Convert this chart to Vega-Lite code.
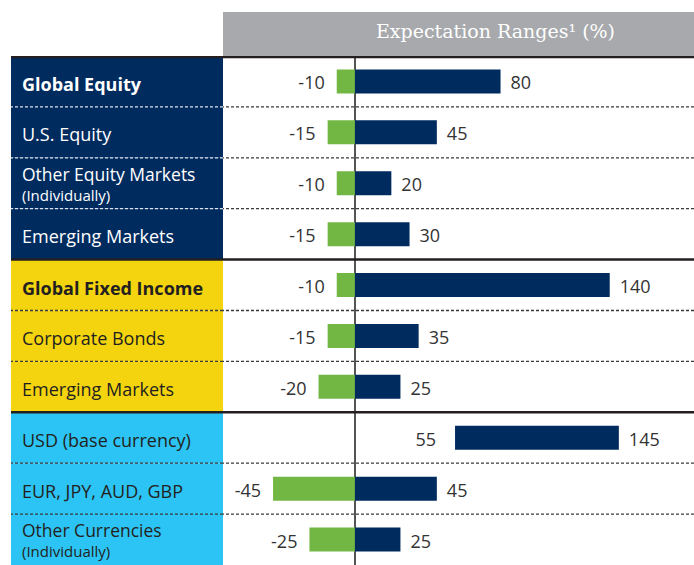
{
  "$schema": "https://vega.github.io/schema/vega-lite/v6.json",
  "padding": {"left": 11, "top": 12, "right": 0, "bottom": 0},
  "spacing": 0,
  "config": {
    "view": {"stroke": null},
    "concat": {"spacing": 0},
    "text": {"font": "Open Sans"}
  },
  "datasets": {
    "rows": [
      {"id": 1, "line1": "Global Equity", "line2": null, "group": "Equity", "level": "total", "low": -10, "high": 80},
      {"id": 2, "line1": "U.S. Equity", "line2": null, "group": "Equity", "level": "item", "low": -15, "high": 45},
      {"id": 3, "line1": "Other Equity Markets", "line2": "(Individually)", "group": "Equity", "level": "item", "low": -10, "high": 20},
      {"id": 4, "line1": "Emerging Markets", "line2": null, "group": "Equity", "level": "item", "low": -15, "high": 30},
      {"id": 5, "line1": "Global Fixed Income", "line2": null, "group": "Fixed Income", "level": "total", "low": -10, "high": 140},
      {"id": 6, "line1": "Corporate Bonds", "line2": null, "group": "Fixed Income", "level": "item", "low": -15, "high": 35},
      {"id": 7, "line1": "Emerging Markets", "line2": null, "group": "Fixed Income", "level": "item", "low": -20, "high": 25},
      {"id": 8, "line1": "USD (base currency)", "line2": null, "group": "Currency", "level": "item", "low": 55, "high": 145},
      {"id": 9, "line1": "EUR, JPY, AUD, GBP", "line2": null, "group": "Currency", "level": "item", "low": -45, "high": 45},
      {"id": 10, "line1": "Other Currencies", "line2": "(Individually)", "group": "Currency", "level": "item", "low": -25, "high": 25}
    ],
    "header": [{"title": "Expectation Ranges\u00b9 (%)"}]
  },
  "vconcat": [
    {
      "hconcat": [
        {
          "width": 212, "height": 44,
          "data": {"name": "header"},
          "mark": {"type": "text", "opacity": 0, "fontSize": 8},
          "encoding": {"text": {"field": "title", "type": "nominal"}}
        },
        {
          "width": 471, "height": 44,
          "view": {"fill": "#A7A9AC", "stroke": null},
          "data": {"name": "header"},
          "mark": {"type": "text", "font": "DejaVu Serif", "fontSize": 19, "color": "white", "align": "center", "baseline": "alphabetic", "dx": 37, "dy": 4},
          "encoding": {"text": {"field": "title", "type": "nominal"}}
        }
      ]
    },
    {
      "hconcat": [
        {
          "width": 212, "height": 509,
          "data": {"name": "rows"},
          "layer": [
            {
              "mark": {"type": "rect"},
              "encoding": {
                "y": {"field": "id", "type": "ordinal", "axis": null, "scale": {"paddingInner": 0, "paddingOuter": 0}},
                "color": {"field": "group", "type": "nominal", "legend": null,
                  "scale": {"domain": ["Equity", "Fixed Income", "Currency"], "range": ["#002B5F", "#F3D40E", "#2CC4F4"]}}
              }
            },
            {
              "transform": [{"filter": "datum.id != 1 && datum.id != 5 && datum.id != 8"}],
              "mark": {"type": "rule", "strokeDash": [3, 2], "strokeWidth": 1.3, "clip": true},
              "encoding": {
                "y": {"field": "id", "type": "ordinal", "bandPosition": 0},
                "color": {"condition": {"test": "datum.group == 'Equity'", "value": "#DDE3EC"}, "value": "#3A3A3A"}
              }
            },
            {
              "transform": [{"filter": "datum.id == 5 || datum.id == 8"}],
              "mark": {"type": "rule", "strokeWidth": 2.5, "color": "#231F20", "clip": true},
              "encoding": {"y": {"field": "id", "type": "ordinal", "bandPosition": 0}}
            },
            {
              "transform": [{"filter": "datum.id == 1"}],
              "mark": {"type": "rule", "strokeWidth": 4.5, "color": "#231F20", "clip": true},
              "encoding": {"y": {"field": "id", "type": "ordinal", "bandPosition": 0}}
            },
            {
              "transform": [{"filter": "datum.line2 == null && datum.level == 'total'"}],
              "mark": {"type": "text", "align": "left", "baseline": "middle", "fontSize": 18, "fontWeight": "bold", "dx": -95, "dy": 5},
              "encoding": {
                "y": {"field": "id", "type": "ordinal"},
                "text": {"field": "line1", "type": "nominal"},
                "color": {"condition": {"test": "datum.group == 'Equity'", "value": "white"}, "value": "#231F20"}
              }
            },
            {
              "transform": [{"filter": "datum.line2 == null && datum.level == 'item'"}],
              "mark": {"type": "text", "align": "left", "baseline": "middle", "fontSize": 18, "dx": -95, "dy": 4},
              "encoding": {
                "y": {"field": "id", "type": "ordinal"},
                "text": {"field": "line1", "type": "nominal"},
                "color": {"condition": {"test": "datum.group == 'Equity'", "value": "white"}, "value": "#231F20"}
              }
            },
            {
              "transform": [{"filter": "datum.line2 != null"}],
              "mark": {"type": "text", "align": "left", "baseline": "middle", "fontSize": 17.5, "dx": -95, "dy": -7.5},
              "encoding": {
                "y": {"field": "id", "type": "ordinal"},
                "text": {"field": "line1", "type": "nominal"},
                "color": {"condition": {"test": "datum.group == 'Equity'", "value": "white"}, "value": "#231F20"}
              }
            },
            {
              "transform": [{"filter": "datum.line2 != null"}],
              "mark": {"type": "text", "align": "left", "baseline": "middle", "fontSize": 15, "dx": -95, "dy": 12.5},
              "encoding": {
                "y": {"field": "id", "type": "ordinal"},
                "text": {"field": "line2", "type": "nominal"},
                "color": {"condition": {"test": "datum.group == 'Equity'", "value": "white"}, "value": "#231F20"}
              }
            }
          ]
        },
        {
          "width": 471, "height": 509,
          "data": {"name": "rows"},
          "layer": [
            {
              "transform": [{"filter": "datum.id != 1 && datum.id != 5 && datum.id != 8"}],
              "mark": {"type": "rule", "strokeDash": [3, 2], "strokeWidth": 1.3, "color": "#3A3A3A", "clip": true},
              "encoding": {"y": {"field": "id", "type": "ordinal", "bandPosition": 0, "axis": null, "scale": {"paddingInner": 0, "paddingOuter": 0}}}
            },
            {
              "mark": {"type": "rule", "strokeWidth": 1.5, "color": "#555555", "clip": true},
              "encoding": {"x": {"datum": 0, "type": "quantitative", "scale": {"domain": [-72.5, 186.3], "nice": false, "zero": false}, "axis": null}}
            },
            {
              "transform": [{"filter": "datum.id == 5 || datum.id == 8"}],
              "mark": {"type": "rule", "strokeWidth": 2.5, "color": "#231F20", "clip": true},
              "encoding": {"y": {"field": "id", "type": "ordinal", "bandPosition": 0}}
            },
            {
              "transform": [{"filter": "datum.id == 1"}],
              "mark": {"type": "rule", "strokeWidth": 4.5, "color": "#231F20", "clip": true},
              "encoding": {"y": {"field": "id", "type": "ordinal", "bandPosition": 0}}
            },
            {
              "transform": [{"filter": "datum.low < 0"}],
              "mark": {"type": "bar", "color": "#72B743", "height": {"band": 0.472}},
              "encoding": {
                "y": {"field": "id", "type": "ordinal"},
                "x": {"field": "low", "type": "quantitative"}
              }
            },
            {
              "transform": [{"filter": "datum.low < 0"}],
              "mark": {"type": "bar", "color": "#002B5F", "height": {"band": 0.472}},
              "encoding": {
                "y": {"field": "id", "type": "ordinal"},
                "x": {"field": "high", "type": "quantitative"}
              }
            },
            {
              "transform": [{"filter": "datum.low >= 0"}],
              "mark": {"type": "bar", "color": "#002B5F", "height": {"band": 0.472}},
              "encoding": {
                "y": {"field": "id", "type": "ordinal"},
                "x": {"field": "low", "type": "quantitative"},
                "x2": {"field": "high"}
              }
            },
            {
              "transform": [{"filter": "datum.low < 0"}],
              "mark": {"type": "text", "align": "right", "baseline": "middle", "fontSize": 18, "color": "#333333", "dx": -12, "dy": 3},
              "encoding": {
                "y": {"field": "id", "type": "ordinal"},
                "x": {"field": "low", "type": "quantitative"},
                "text": {"field": "low", "type": "nominal"}
              }
            },
            {
              "transform": [{"filter": "datum.low >= 0"}],
              "mark": {"type": "text", "align": "right", "baseline": "middle", "fontSize": 18, "color": "#333333", "dx": -19, "dy": 3},
              "encoding": {
                "y": {"field": "id", "type": "ordinal"},
                "x": {"field": "low", "type": "quantitative"},
                "text": {"field": "low", "type": "nominal"}
              }
            },
            {
              "mark": {"type": "text", "align": "left", "baseline": "middle", "fontSize": 18, "color": "#333333", "dx": 10, "dy": 3},
              "encoding": {
                "y": {"field": "id", "type": "ordinal"},
                "x": {"field": "high", "type": "quantitative"},
                "text": {"field": "high", "type": "nominal"}
              }
            }
          ]
        }
      ]
    }
  ]
}
